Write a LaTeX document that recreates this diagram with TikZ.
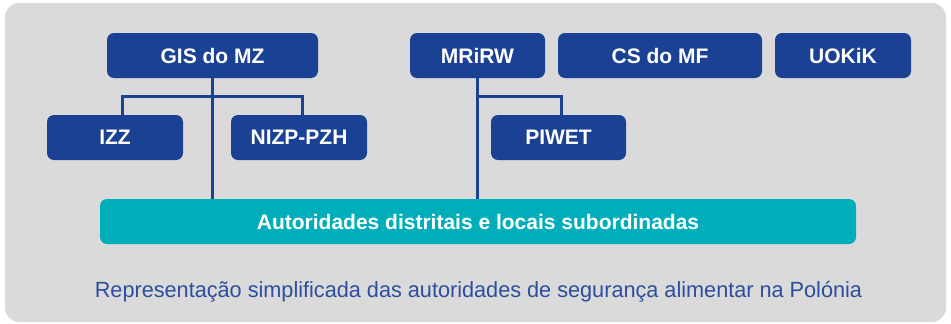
\documentclass[tikz,border=0pt]{standalone}
\usepackage{fontspec}
\setmainfont{Liberation Sans}
\definecolor{dblue}{HTML}{1A4193}
\definecolor{teal2}{HTML}{00AEBB}
\definecolor{bggray}{HTML}{DADADA}
\definecolor{captblue}{HTML}{2D4E9E}
\tikzset{
  orgbox/.style={draw=none, fill=dblue, rounded corners=7pt, text=white, font=\fontsize{21}{24}\selectfont\bfseries, inner sep=0pt},
  tealbox/.style={draw=none, fill=teal2, rounded corners=7pt, text=white, font=\fontsize{21}{24}\selectfont\bfseries, inner sep=0pt},
  link/.style={draw=dblue, line width=3pt}
}
\begin{document}
\begin{tikzpicture}[x=1pt,y=-1pt]
\useasboundingbox (0,0) rectangle (951,324);
\fill[bggray, rounded corners=14pt] (5,3) rectangle (946,322);
% connectors first (behind boxes)
\coordinate (gisj) at (212,96);
\coordinate (mrj) at (477,96);
\coordinate (izzt) at (122,120);
\coordinate (nizpt) at (302,120);
\coordinate (piwett) at (561,120);
\coordinate (gist) at (212,70);
\coordinate (mrt) at (477,70);
\coordinate (autt1) at (212,205);
\coordinate (autt2) at (477,205);
\draw[link] (gist) -- (autt1);
\draw[link] (izzt) |- (gisj) -| (nizpt);
\draw[link] (mrt) -- (autt2);
\draw[link] (mrj) -| (piwett);
% boxes
\node[orgbox, minimum width=211pt, minimum height=45pt] (gis) at (212.5,55.5) {GIS do MZ};
\node[orgbox, minimum width=136pt, minimum height=45pt] (izz) at (115,137.5) {IZZ};
\node[orgbox, minimum width=136pt, minimum height=45pt] (nizp) at (299,137.5) {NIZP-PZH};
\node[orgbox, minimum width=135pt, minimum height=45pt] (mrirw) at (477.5,55.5) {MRiRW};
\node[orgbox, minimum width=204pt, minimum height=45pt] (cs) at (660,55.5) {CS do MF};
\node[orgbox, minimum width=136pt, minimum height=45pt] (uokik) at (843,55.5) {UOKiK};
\node[orgbox, minimum width=135pt, minimum height=45pt] (piwet) at (558.5,137.5) {PIWET};
\node[tealbox, minimum width=756pt, minimum height=45pt] (aut) at (478,221.5) {Autoridades distritais e locais subordinadas};
\node[text=captblue, font=\fontsize{22}{26}\selectfont, inner sep=0pt] (cap) at (478.5,292) {\scalebox{0.985}[1]{Representação simplificada das autoridades de segurança alimentar na Polónia}};
\end{tikzpicture}
\end{document}
